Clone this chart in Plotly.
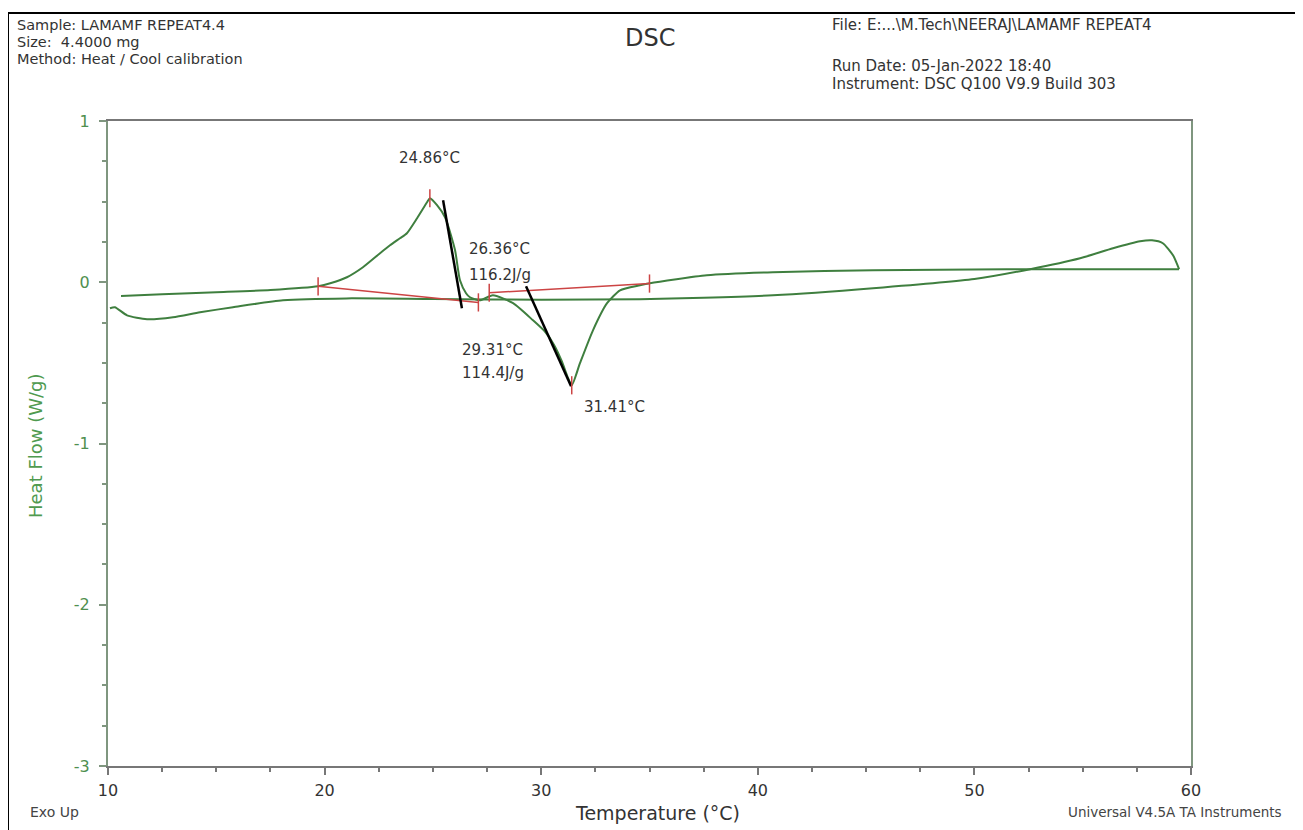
import plotly.graph_objects as go

# ---------------- data ----------------
# Curve 1: trace with exotherm at 24.86 °C and endotherm at 31.41 °C
t1 = [10.6, 12.5, 15.0, 17.5, 19.7, 20.3, 21.03, 21.77, 22.56, 23.02, 23.48, 23.80,
      24.27, 24.73, 24.86, 25.19, 25.56, 26.02, 26.25, 26.53, 26.71, 27.17, 27.77,
      28.70, 29.62, 30.20, 30.60, 30.95, 31.20, 31.41, 31.79, 32.39, 33.04, 33.64,
      34.56, 35.02, 37.65, 40.70, 45.32, 51.5, 55.0, 59.45]
hf1 = [-0.085, -0.075, -0.062, -0.048, -0.025, -0.005, 0.031, 0.093, 0.180, 0.229,
       0.273, 0.304, 0.397, 0.496, 0.521, 0.478, 0.403, 0.20, 0.012, -0.068, -0.093,
       -0.112, -0.081, -0.130, -0.236, -0.31, -0.39, -0.49, -0.58, -0.639, -0.502,
       -0.298, -0.130, -0.050, -0.019, -0.006, 0.043, 0.062, 0.074, 0.080, 0.081, 0.081]

# Curve 2: trace with start-up hook at 10 °C and end hook near 58 °C
t2 = [10.09, 10.32, 10.88, 11.8, 13.0, 14.25, 15.77, 18.08, 21.0, 25.0, 30.0,
      34.56, 37.5, 40.7, 45.32, 50.0, 52.57, 54.88, 56.4, 57.65, 58.2, 58.7,
      59.17, 59.45]
hf2 = [-0.161, -0.155, -0.205, -0.229, -0.217, -0.186, -0.155, -0.112, -0.100,
       -0.104, -0.108, -0.105, -0.096, -0.081, -0.037, 0.020, 0.081, 0.149, 0.211,
       0.254, 0.260, 0.242, 0.167, 0.081]

# integration baselines (red)
base1_t = [19.7, 27.1]
base1_hf = [-0.025, -0.125]
base2_t = [27.6, 35.0]
base2_hf = [-0.065, -0.008]

# limit / peak markers (red ticks)
mark_t = [19.7, 27.1, 27.6, 35.0, 24.86, 31.41]
mark_hf = [-0.025, -0.125, -0.065, -0.008, 0.521, -0.639]

# onset tangents (black)
tan1_t = [25.47, 26.34]
tan1_hf = [0.509, -0.161]
tan2_t = [29.30, 31.38]
tan2_hf = [-0.025, -0.645]

# result labels
lab_text = ["24.86°C", "26.36°C", "116.2J/g", "29.31°C", "114.4J/g", "31.41°C"]
lab_t = [23.34, 26.57, 26.57, 26.25, 26.25, 31.88]
lab_hf = [0.77, 0.205, 0.045, -0.42, -0.56, -0.775]

x_ticks = [10, 20, 30, 40, 50, 60]
y_ticks = [-3, -2, -1, 0, 1]
y_ticktext = ["-3", "-2", "-1", "0", "1"]

# ---------------- layout geometry ----------------
# the page body has an 8px margin, so the figure is drawn 8px in from the corner
OFF = 8
W, H = 1303 - OFF, 830 - OFF
L, R, T, B = 108 - OFF, 1191 - OFF, 121 - OFF, 766 - OFF   # plot area in figure px


def px(x):
    """reference-page x pixel -> paper coordinate"""
    return (x - OFF - L) / (R - L)


def py(y):
    """reference-page y pixel -> paper coordinate"""
    return (B - (y - OFF)) / (B - T)


FONT = "DejaVu Sans"
GREEN = "#3f7f3f"
RED = "#cc4444"

fig = go.Figure()

fig.add_trace(go.Scatter(x=t2, y=hf2, mode="lines",
                         line=dict(color=GREEN, width=2, shape="spline", smoothing=0.6),
                         hoverinfo="skip", showlegend=False))
fig.add_trace(go.Scatter(x=t1, y=hf1, mode="lines",
                         line=dict(color=GREEN, width=2, shape="spline", smoothing=0.6),
                         hoverinfo="skip", showlegend=False))
for bt, bh in ((base1_t, base1_hf), (base2_t, base2_hf)):
    fig.add_trace(go.Scatter(x=bt, y=bh, mode="lines",
                             line=dict(color=RED, width=1.5),
                             hoverinfo="skip", showlegend=False))
for tt, th in ((tan1_t, tan1_hf), (tan2_t, tan2_hf)):
    fig.add_trace(go.Scatter(x=tt, y=th, mode="lines",
                             line=dict(color="black", width=2.5),
                             hoverinfo="skip", showlegend=False))
fig.add_trace(go.Scatter(x=mark_t, y=mark_hf, mode="markers",
                         marker=dict(symbol="line-ns", size=13,
                                     line=dict(color=RED, width=1.5)),
                         hoverinfo="skip", showlegend=False))

annotations = []
for txt, xt, yt in zip(lab_text, lab_t, lab_hf):
    annotations.append(dict(x=xt, y=yt, xref="x", yref="y", text=txt, showarrow=False,
                            xanchor="left", yanchor="middle",
                            font=dict(family=FONT, size=15, color="#333333")))

header_left = [
    ("Sample: LAMAMF REPEAT4.4", 15, 25),
    ("Size:  4.4000 mg", 15, 42),
    ("Method: Heat / Cool calibration", 15, 59),
]
header_right = [
    ("File: E:...\\M.Tech\\NEERAJ\\LAMAMF REPEAT4", 830, 25),
    ("Run Date: 05-Jan-2022 18:40", 830, 66),
    ("Instrument: DSC Q100 V9.9 Build 303", 830, 84),
]
for items, size in ((header_left, 14.5), (header_right, 15)):
    for txt, x, y in items:
        annotations.append(dict(x=px(x), y=py(y), xref="paper", yref="paper", text=txt,
                                showarrow=False, xanchor="left", yanchor="middle",
                                font=dict(family=FONT, size=size, color="#333333")))

annotations.append(dict(x=px(650), y=py(38), xref="paper", yref="paper", text="DSC",
                        showarrow=False, xanchor="center", yanchor="middle",
                        font=dict(family=FONT, size=24, color="#333333")))
annotations.append(dict(x=px(657), y=py(813), xref="paper", yref="paper",
                        text="Temperature (°C)", showarrow=False,
                        xanchor="center", yanchor="middle",
                        font=dict(family=FONT, size=19, color="#333333")))
annotations.append(dict(x=px(28), y=py(812), xref="paper", yref="paper", text="Exo Up",
                        showarrow=False, xanchor="left", yanchor="middle",
                        font=dict(family=FONT, size=14, color="#444444")))
annotations.append(dict(x=px(1066), y=py(812), xref="paper", yref="paper",
                        text="Universal V4.5A TA Instruments", showarrow=False,
                        xanchor="left", yanchor="middle",
                        font=dict(family=FONT, size=13.5, color="#444444")))
annotations.append(dict(x=px(35), y=py(446), xref="paper", yref="paper",
                        text="Heat Flow (W/g)", textangle=-90, showarrow=False,
                        xanchor="center", yanchor="middle",
                        font=dict(family=FONT, size=18, color="#4f9a4f")))

fig.update_layout(
    width=W, height=H, autosize=False,
    margin=dict(l=L, r=W - R, t=T, b=H - B, pad=0),
    paper_bgcolor="white", plot_bgcolor="white",
    font=dict(family=FONT),
    annotations=annotations,
    shapes=[dict(type="rect", xref="paper", yref="paper",
                 x0=px(8), x1=px(1340), y0=py(13), y1=py(870),
                 line=dict(color="black", width=2), layer="below")],
)
fig.update_xaxes(range=[10, 60], tickvals=x_ticks, ticks="outside", ticklen=7,
                 tickwidth=1.5, tickcolor="#777777", showline=True, linecolor="#777777",
                 linewidth=2, mirror=True, showgrid=False, zeroline=False,
                 tickfont=dict(family=FONT, size=16, color="#333333"),
                 ticklabelstandoff=2,
                 minor=dict(dtick=2.5, ticks="outside", ticklen=4, tickcolor="#777777",
                            showgrid=False))
fig.update_yaxes(range=[-3, 1], tickvals=y_ticks, ticktext=y_ticktext, ticks="outside",
                 ticklen=7, tickwidth=1.5, tickcolor="#7f967f", showline=True,
                 linecolor="#7f967f", linewidth=2, mirror=True, showgrid=False,
                 zeroline=False, ticklabelstandoff=6,
                 tickfont=dict(family=FONT, size=16, color="#4f8f4f"),
                 minor=dict(dtick=0.25, ticks="outside", ticklen=4, tickcolor="#7f967f",
                            showgrid=False))

fig.write_html("out.html")
